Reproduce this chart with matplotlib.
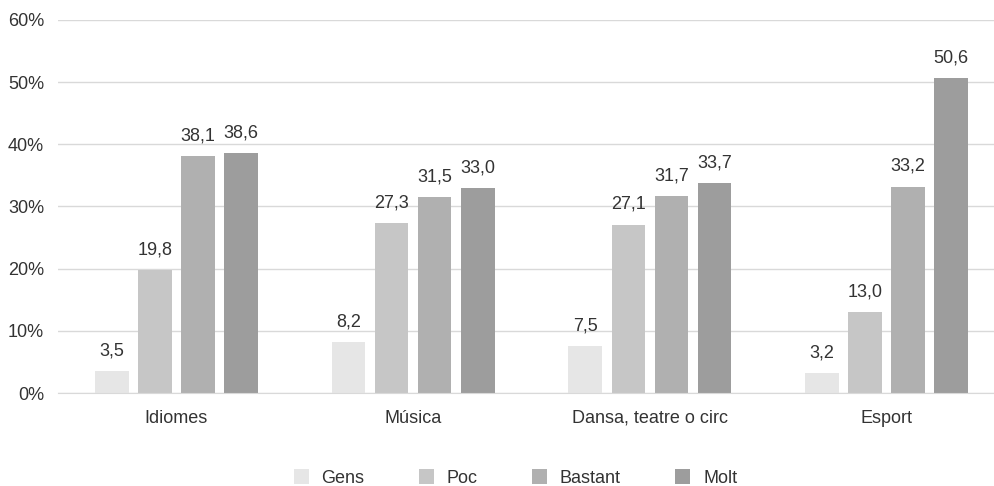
import matplotlib.pyplot as plt
import numpy as np

plt.rcParams['font.family'] = ['Liberation Sans', 'DejaVu Sans']

categories = ['Idiomes', 'Música', 'Dansa, teatre o circ', 'Esport']
series = ['Gens', 'Poc', 'Bastant', 'Molt']
gens = [3.5, 8.2, 7.5, 3.2]
poc = [19.8, 27.3, 27.1, 13.0]
bastant = [38.1, 31.5, 31.7, 33.2]
molt = [38.6, 33.0, 33.7, 50.6]
values = [gens, poc, bastant, molt]
colors = ['#e6e6e6', '#c6c6c6', '#b0b0b0', '#9d9d9d']

fig = plt.figure(figsize=(9.95, 4.86), dpi=100)
ax = fig.add_axes([58/995, 1 - 393/486, 947/995, 373/486])

x = np.arange(len(categories))
step = 0.182
width = 0.142
for i, (name, vals) in enumerate(zip(series, values)):
    pos = x + (i - 1.5) * step
    ax.bar(pos, vals, width, color=colors[i], label=name, zorder=2)
    for p, v in zip(pos, vals):
        ax.text(p, v + 1.9, f'{v:.1f}'.replace('.', ','), ha='center', va='bottom',
                fontsize=13, color='#333333')

ax.set_xlim(-0.5, 3.5)
ax.set_ylim(0, 60)
ax.set_yticks(range(0, 61, 10))
ax.set_yticklabels([f'{t}%' for t in range(0, 61, 10)])
ax.set_xticks(x)
ax.set_xticklabels(categories)
ax.grid(axis='y', color='#d9d9d9', linewidth=1, zorder=0)
for s in ['top', 'right', 'left']:
    ax.spines[s].set_visible(False)
ax.spines['bottom'].set_color('#d9d9d9')
ax.tick_params(axis='both', length=0, labelsize=13, labelcolor='#333333')
ax.tick_params(axis='x', pad=12)
ax.tick_params(axis='y', pad=10)

fig.legend(loc='center', bbox_to_anchor=(0.518, 1 - 478/486), ncol=4, frameon=False,
           fontsize=13, handlelength=0.85, handleheight=0.85, columnspacing=3.0,
           handletextpad=0.7, labelcolor='#333333')

fig.savefig('out.png', dpi=100)
